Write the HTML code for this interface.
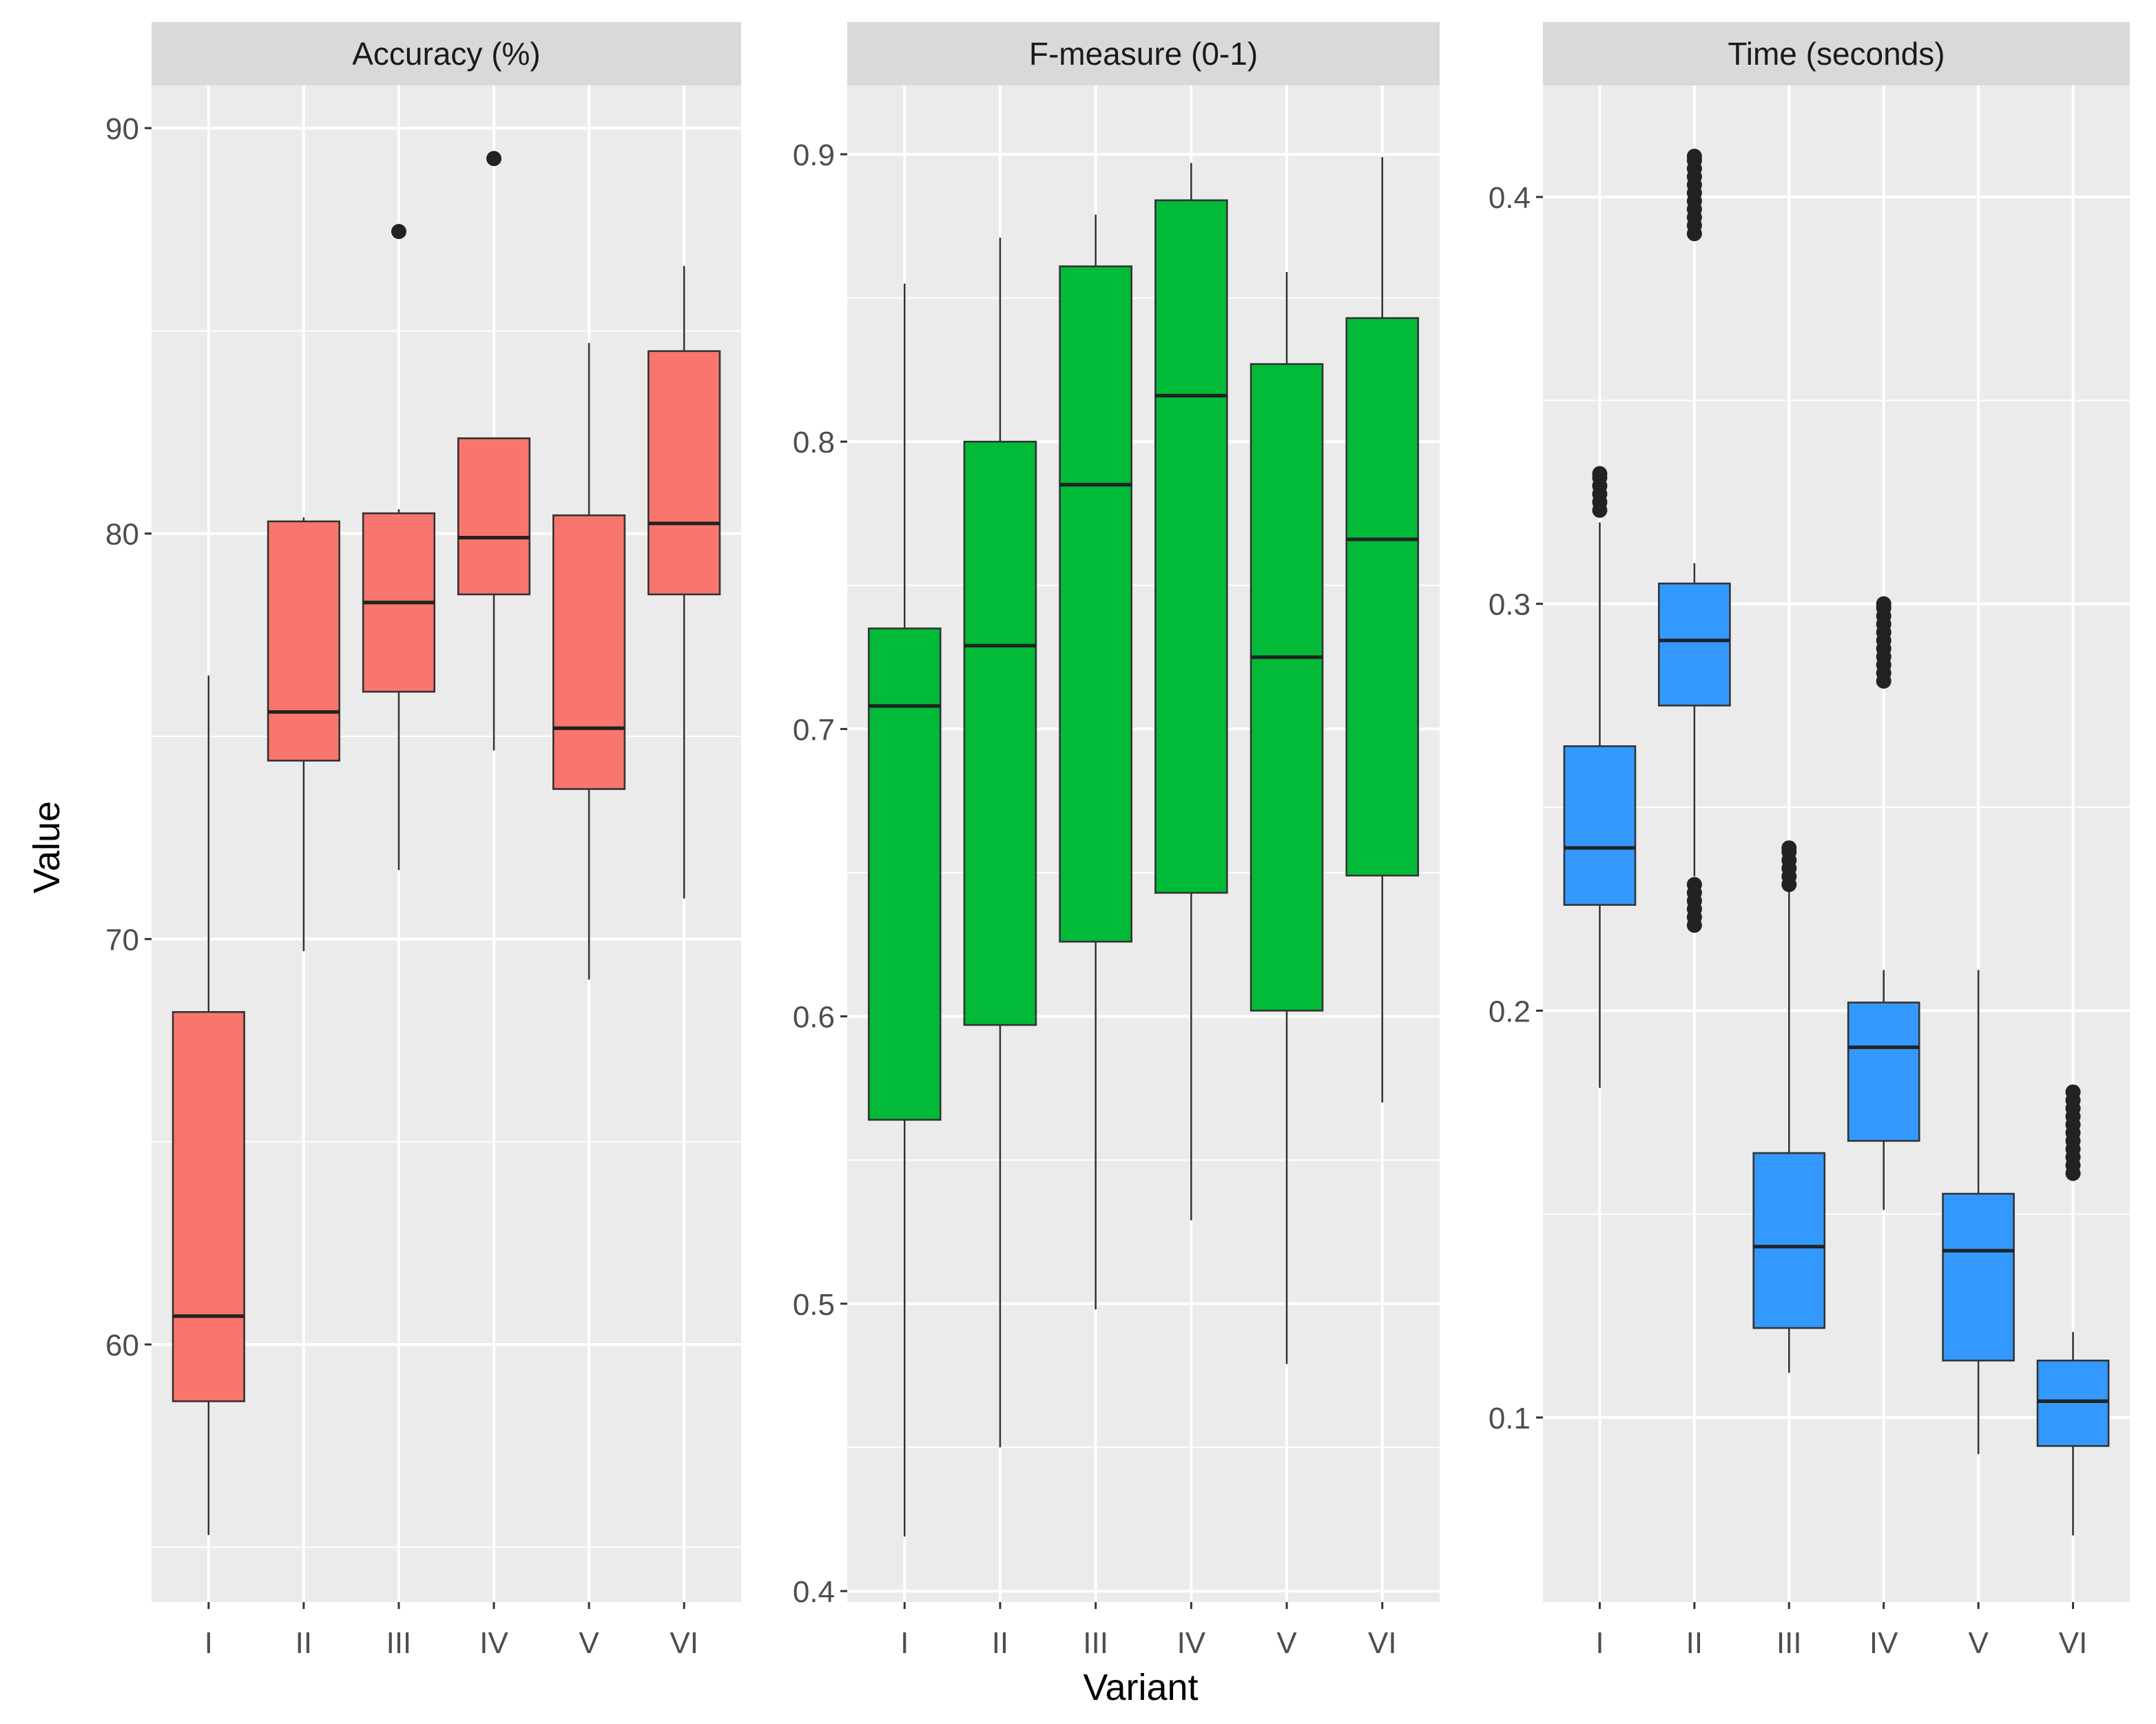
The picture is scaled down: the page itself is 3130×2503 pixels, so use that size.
<!DOCTYPE html>
<html><head><meta charset="utf-8"><style>
html,body{margin:0;padding:0;background:#fff;}
svg{display:block;font-family:"Liberation Sans",sans-serif;}
</style></head><body>
<svg id="chart" width="3130" height="2503" viewBox="0 0 1565 1251.5" xmlns="http://www.w3.org/2000/svg">
<text x="0" y="0" transform="translate(43,615) rotate(-90)" text-anchor="middle" font-size="27" fill="#000">Value</text>
<text x="828" y="1234" text-anchor="middle" font-size="27" fill="#000">Variant</text>
</svg>
<script>
const categories = ["I","II","III","IV","V","VI"];
const panelTitles = ["Accuracy (%)","F-measure (0-1)","Time (seconds)"];
// [low whisker, Q1, median, Q3, high whisker]
const accuracyStats = [[55.3,58.6,60.7,68.2,76.5],[69.7,74.4,75.6,80.3,80.4],[71.7,76.1,78.3,80.5,80.6],[74.65,78.5,79.9,82.35,82.35],[69,73.7,75.2,80.45,84.7],[71,78.5,80.25,84.5,86.6]];
const accuracyOutliers = [[],[],[87.45],[89.25],[],[]];
const fmeasureStats = [[0.419,0.564,0.708,0.735,0.855],[0.45,0.597,0.729,0.80,0.871],[0.498,0.626,0.785,0.861,0.879],[0.529,0.643,0.816,0.884,0.897],[0.479,0.602,0.725,0.827,0.859],[0.570,0.649,0.766,0.843,0.899]];
const fmeasureOutliers = [[],[],[],[],[],[]];
const timeStats = [[0.181,0.226,0.240,0.265,0.320],[0.233,0.275,0.291,0.305,0.310],[0.111,0.122,0.142,0.165,0.230],[0.151,0.168,0.191,0.202,0.210],[0.091,0.114,0.141,0.155,0.210],[0.071,0.093,0.104,0.114,0.121]];
const timeOutliers = [
 [0.323,0.325,0.327,0.329,0.331,0.332],
 [0.391,0.393,0.395,0.397,0.399,0.401,0.403,0.405,0.407,0.409,0.41,0.221,0.223,0.225,0.227,0.229,0.231],
 [0.231,0.233,0.235,0.237,0.239,0.24],
 [0.281,0.283,0.285,0.287,0.289,0.291,0.293,0.295,0.297,0.299,0.30],
 [],
 [0.16,0.162,0.164,0.166,0.168,0.170,0.172,0.174,0.176,0.178,0.18]];
const accuracyMajorTicks = [60,70,80,90];
const accuracyMinorTicks = [55,65,75,85];
const fmeasureMajorTicks = [0.4,0.5,0.6,0.7,0.8,0.9];
const fmeasureMinorTicks = [0.45,0.55,0.65,0.75,0.85];
const timeMajorTicks = [0.1,0.2,0.3,0.4];
const timeMinorTicks = [0.15,0.25,0.35];

const NS="http://www.w3.org/2000/svg";
const svg=document.getElementById('chart');
function mk(tag,attrs,parent){const e=document.createElementNS(NS,tag);for(const k in attrs)e.setAttribute(k,attrs[k]);(parent||svg).appendChild(e);return e;}
const TOP=62,BOT=1163,STRIP_TOP=16;
const panels=[
 {x0:110,x1:538,v0:90,y0:93,v1:60,y1:976,stats:accuracyStats,out:accuracyOutliers,maj:accuracyMajorTicks,min:accuracyMinorTicks,fill:"#F8766D",fmt:v=>String(v),name:"accuracy"},
 {x0:615,x1:1045,v0:0.9,y0:112,v1:0.4,y1:1155,stats:fmeasureStats,out:fmeasureOutliers,maj:fmeasureMajorTicks,min:fmeasureMinorTicks,fill:"#00BA38",fmt:v=>v.toFixed(1),name:"fmeasure"},
 {x0:1120,x1:1546,v0:0.4,y0:143,v1:0.1,y1:1029,stats:timeStats,out:timeOutliers,maj:timeMajorTicks,min:timeMinorTicks,fill:"#3399FF",fmt:v=>v.toFixed(1),name:"time"}
];
panels.forEach((p,pi)=>{
 const y=v=>p.y0+(v-p.v0)*(p.y1-p.y0)/(p.v1-p.v0);
 const step=(p.x1-p.x0)/6.2;
 const x=i=>p.x0+step*(0.6+i);
 const bw=step*0.75;
 const g=mk('g',{});
 
 
 const strip=mk('rect',{x:p.x0,y:STRIP_TOP,width:p.x1-p.x0,height:TOP-STRIP_TOP,fill:"#D9D9D9"},g);
 
 
 const st=mk('text',{x:(p.x0+p.x1)/2,y:(STRIP_TOP+TOP)/2+8,'text-anchor':'middle','font-size':23,fill:'#1A1A1A'},g);
 st.textContent=panelTitles[pi];
 
 
 const bg=mk('rect',{x:p.x0,y:TOP,width:p.x1-p.x0,height:BOT-TOP,fill:"#EBEBEB"},g);
 
 
 p.min.forEach(v=>{const l=mk('line',{x1:p.x0,x2:p.x1,y1:y(v),y2:y(v),stroke:'#fff','stroke-width':1},g);
  
  });
 p.maj.forEach(v=>{const l=mk('line',{x1:p.x0,x2:p.x1,y1:y(v),y2:y(v),stroke:'#fff','stroke-width':2},g);
  
  
  const t=mk('line',{x1:p.x0-5,x2:p.x0,y1:y(v),y2:y(v),stroke:'#333','stroke-width':1.5},g);
  
  
  const tl=mk('text',{x:p.x0-9,y:y(v)+8,'text-anchor':'end','font-size':22,fill:'#4D4D4D'},g);
  tl.textContent=p.fmt(v);
  
  });
 categories.forEach((c,i)=>{
  const l=mk('line',{x1:x(i),x2:x(i),y1:TOP,y2:BOT,stroke:'#fff','stroke-width':2},g);
  
  
  const t=mk('line',{x1:x(i),x2:x(i),y1:BOT,y2:BOT+5,stroke:'#333','stroke-width':1.5},g);
  
  
  const tl=mk('text',{x:x(i),y:BOT+37,'text-anchor':'middle','font-size':22,fill:'#4D4D4D'},g);
  tl.textContent=c;
  
  
 });
 p.stats.forEach((s,i)=>{
  const bx=mk('g',{},g);
  
  
  mk('line',{x1:x(i),x2:x(i),y1:y(s[0]),y2:y(s[1]),stroke:'#333','stroke-width':1.3},bx);
  mk('line',{x1:x(i),x2:x(i),y1:y(s[3]),y2:y(s[4]),stroke:'#333','stroke-width':1.3},bx);
  mk('rect',{x:x(i)-bw/2,y:y(s[3]),width:bw,height:y(s[1])-y(s[3]),fill:p.fill,stroke:'#333','stroke-width':1.3},bx);
  mk('line',{x1:x(i)-bw/2,x2:x(i)+bw/2,y1:y(s[2]),y2:y(s[2]),stroke:'#222','stroke-width':2.6},bx);
  p.out[i].forEach(v=>{const c=mk('circle',{cx:x(i),cy:y(v),r:5.5,fill:'#222'},bx);
   
   });
 });
});
</script>
</body></html>
